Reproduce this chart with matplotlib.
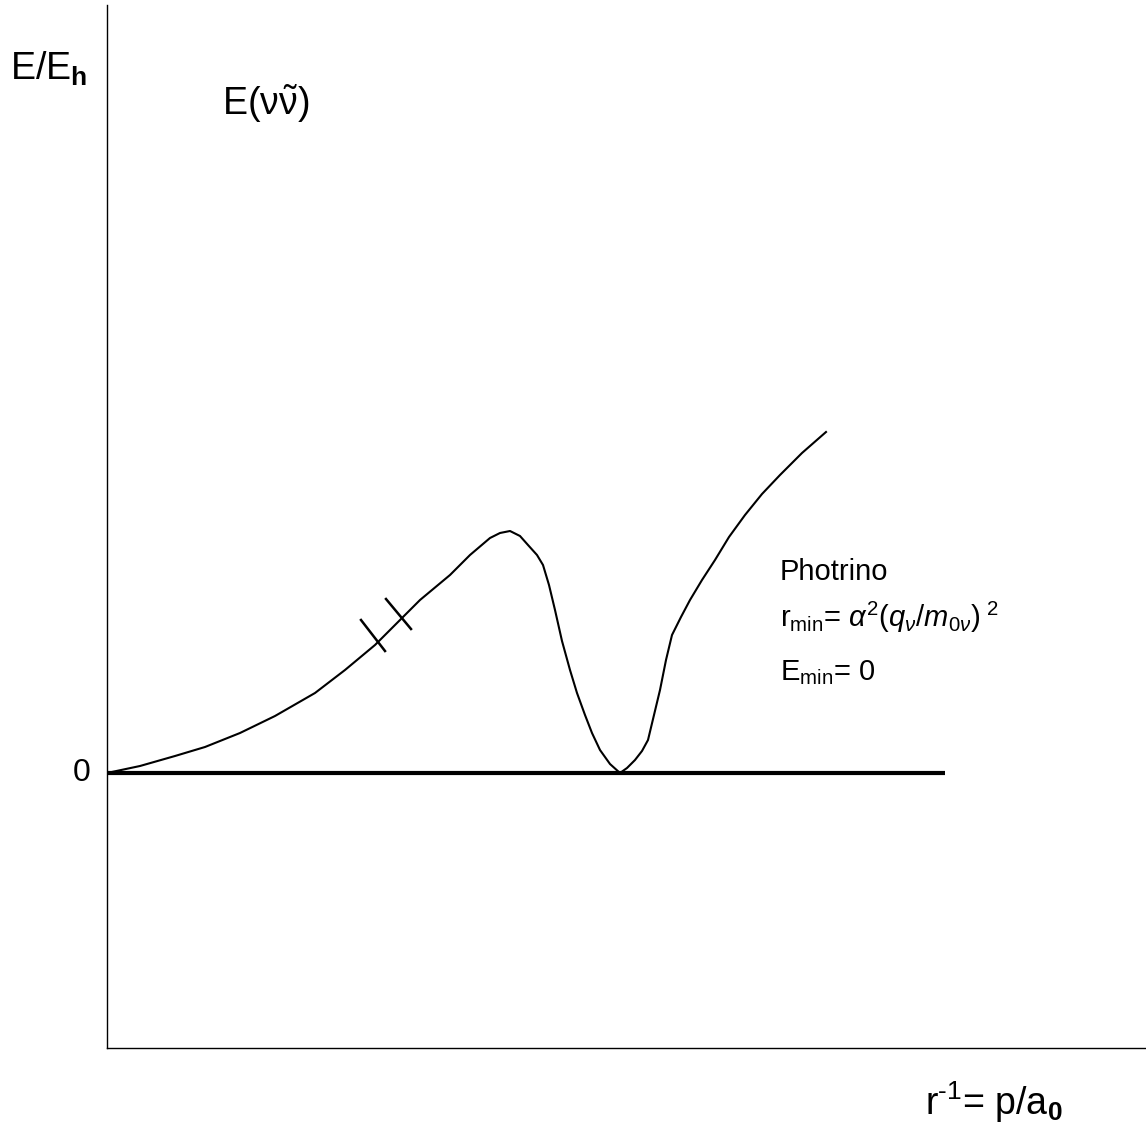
import matplotlib
matplotlib.use("Agg")
import matplotlib.pyplot as plt

plt.rcParams['font.family'] = ['Liberation Sans', 'DejaVu Sans']
plt.rcParams['mathtext.fontset'] = 'custom'
plt.rcParams['mathtext.rm'] = 'Liberation Sans'
plt.rcParams['mathtext.it'] = 'Liberation Sans:italic'
plt.rcParams['mathtext.bf'] = 'Liberation Sans:bold'

# Curve E(nu nu~) vs r^-1 (arbitrary units)
curve_x = [0, 33, 68, 98, 133, 168, 208, 238, 268, 293, 313, 343, 363, 383, 393, 403,
           413, 421, 430, 436, 442, 448, 455, 463, 470, 478, 485, 493, 503, 513,
           520, 528, 535, 541, 547, 553, 559, 565, 574, 583, 595, 608, 622, 638, 655, 673, 695, 719]
curve_y = [0, 7, 17, 26, 40, 57, 80, 103, 128, 153, 173, 198, 218, 235, 240, 242,
           237, 228, 218, 208, 188, 163, 132, 103, 80, 58, 40, 23, 9, 0,
           5, 13, 22, 33, 58, 83, 113, 138, 156, 173, 193, 213, 236, 258, 279, 298, 320, 341]

zero_x = [0, 838]
zero_y = [0, 0]

# break marks on curve (short strokes)
break_marks = [([254, 278], [153, 122]), ([279, 304], [174, 144])]

fig = plt.figure(figsize=(11.46, 11.38), dpi=100)
W, H = 1146, 1138
ax = fig.add_axes([107 / W, (H - 1048) / H, (W - 107) / W, (1048 - 5) / H])
ax.set_xlim(0, W - 107)
ax.set_ylim(-(1048 - 773), 773 - 5)
for s in ['top', 'right']:
    ax.spines[s].set_visible(False)
for s in ['left', 'bottom']:
    ax.spines[s].set_linewidth(1.0)
ax.set_xticks([])
ax.set_yticks([])

ax.plot(curve_x, curve_y, color='black', lw=1.5, solid_joinstyle='round')
ax.plot(zero_x, zero_y, color='black', lw=3.0, solid_capstyle='butt')
for bx, by in break_marks:
    ax.plot(bx, by, color='black', lw=1.8)

kw = dict(color='black', clip_on=False)
ax.text(-97, 773 - 80, r'E/E$_{\mathbf{h}}$', fontsize=27, ha='left', va='baseline', **kw)
ax.text(115, 773 - 115, r'$\mathrm{E(\nu\tilde{\nu})}$', fontsize=27, ha='left', va='baseline', **kw)
ax.text(-17, 0, '0', fontsize=23, ha='right', va='center', **kw)
ax.text(673, 773 - 580, 'Photrino', fontsize=21, ha='left', va='baseline', **kw)
ax.text(673, 773 - 627, r'r$_{\mathrm{min}}$= $\alpha^{2}$($\mathit{q_{\nu}/m_{0\nu}}$)$^{\ 2}$',
        fontsize=21, ha='left', va='baseline', **kw)
ax.text(673, 773 - 680, r'E$_{\mathrm{min}}$= 0', fontsize=21, ha='left', va='baseline', **kw)
ax.text(818, 773 - 1115, r'r$^{\text{-1}}$= p/a$_{\mathbf{0}}$', fontsize=27, ha='left', va='baseline', **kw)

fig.savefig('out.png', dpi=100, facecolor='white')
